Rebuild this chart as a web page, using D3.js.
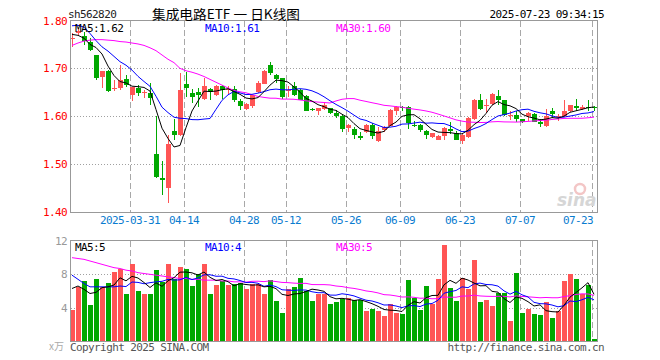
<!DOCTYPE html>
<html><head><meta charset="utf-8">
<script src="https://cdn.jsdelivr.net/npm/d3@7"></script>
<style>body{margin:0;background:#fff}svg{display:block}</style>
</head><body><svg id="c" width="660" height="360"></svg>
<script>
const dates = ["03-17","03-18","03-19","03-20","03-21","03-24","03-25","03-26","03-27","03-28","03-31",
"04-01","04-02","04-03","04-07","04-08","04-09","04-10","04-11","04-14","04-15","04-16","04-17","04-18","04-21","04-22","04-23","04-24","04-25","04-28","04-29","04-30",
"05-06","05-07","05-08","05-09","05-12","05-13","05-14","05-15","05-16","05-19","05-20","05-21","05-22","05-23","05-26","05-27","05-28","05-29","05-30",
"06-03","06-04","06-05","06-06","06-09","06-10","06-11","06-12","06-13","06-16","06-17","06-18","06-19","06-20","06-23","06-24","06-25","06-26","06-27","06-30",
"07-01","07-02","07-03","07-04","07-07","07-08","07-09","07-10","07-11","07-14","07-15","07-16","07-17","07-18","07-21","07-22","07-23"];
const opens = [1.761,1.774,1.768,1.756,1.727,1.681,1.695,1.656,1.659,1.677,
1.645,1.659,1.648,1.648,1.522,1.470,1.450,1.570,1.561,1.668,
1.648,1.650,1.636,1.657,1.645,1.664,1.654,1.657,1.631,1.615,
1.622,1.650,1.668,1.707,1.686,1.680,1.652,1.664,1.654,1.643,
1.615,1.610,1.615,1.617,1.607,1.601,1.575,1.573,1.559,1.568,
1.582,1.548,1.572,1.580,1.612,1.620,1.619,1.581,1.582,1.570,
1.557,1.551,1.558,1.573,1.566,1.548,1.557,1.594,1.634,1.621,
1.626,1.643,1.634,1.600,1.603,1.594,1.600,1.605,1.589,1.580,
1.610,1.599,1.600,1.610,1.622,1.615,1.620,1.620];
const highs = [1.773,1.785,1.775,1.763,1.728,1.695,1.697,1.676,1.707,1.686,
1.661,1.665,1.655,1.670,1.600,1.506,1.561,1.594,1.691,1.693,
1.657,1.659,1.680,1.658,1.666,1.666,1.664,1.664,1.635,1.627,
1.645,1.673,1.696,1.713,1.689,1.680,1.663,1.672,1.656,1.645,
1.617,1.618,1.627,1.618,1.614,1.602,1.583,1.577,1.568,1.583,
1.585,1.577,1.580,1.615,1.622,1.621,1.621,1.590,1.583,1.571,
1.566,1.561,1.578,1.588,1.570,1.563,1.599,1.635,1.646,1.637,
1.649,1.654,1.634,1.611,1.611,1.594,1.608,1.606,1.594,1.615,
1.617,1.604,1.634,1.624,1.637,1.623,1.634,1.621];
const lows = [1.745,1.770,1.749,1.737,1.676,1.659,1.650,1.653,1.655,1.662,
1.631,1.642,1.638,1.624,1.470,1.436,1.419,1.551,1.558,1.641,
1.628,1.619,1.634,1.634,1.642,1.635,1.647,1.629,1.614,1.614,
1.617,1.649,1.667,1.687,1.669,1.635,1.640,1.643,1.633,1.610,
1.610,1.602,1.613,1.604,1.596,1.568,1.568,1.553,1.550,1.564,
1.553,1.546,1.568,1.579,1.603,1.612,1.574,1.577,1.568,1.553,
1.555,1.550,1.551,1.562,1.550,1.542,1.555,1.593,1.614,1.607,
1.624,1.624,1.601,1.593,1.588,1.586,1.590,1.587,1.577,1.578,
1.597,1.590,1.599,1.608,1.610,1.614,1.610,1.612];
const closes = [1.763,1.779,1.757,1.739,1.680,1.695,1.653,1.658,1.676,1.666,
1.661,1.648,1.650,1.638,1.473,1.466,1.541,1.561,1.654,1.659,
1.640,1.645,1.664,1.650,1.664,1.654,1.656,1.633,1.622,1.625,
1.645,1.670,1.695,1.690,1.677,1.640,1.655,1.645,1.634,1.612,
1.613,1.617,1.624,1.607,1.600,1.573,1.582,1.561,1.554,1.582,
1.558,1.570,1.578,1.614,1.619,1.618,1.586,1.579,1.572,1.561,
1.564,1.559,1.575,1.570,1.551,1.561,1.596,1.634,1.615,1.623,
1.647,1.634,1.603,1.602,1.594,1.589,1.607,1.589,1.584,1.601,
1.605,1.601,1.610,1.624,1.617,1.620,1.618,1.618];
const volumes = [3.7,6.5,7.2,4.3,7.5,6.5,7.0,8.3,8.6,5.7,
9.2,6.0,5.6,5.6,8.5,7.1,9.3,7.5,8.9,8.6,
6.6,8.0,9.3,5.7,6.7,7.2,6.7,6.8,7.0,6.2,
6.8,6.9,5.6,7.3,4.8,3.4,6.2,6.5,7.6,6.0,
4.8,5.7,5.7,4.4,4.7,5.1,5.2,4.9,4.9,3.6,
3.8,3.6,3.0,4.5,3.4,3.2,7.3,5.2,3.7,6.6,
4.5,7.4,11.5,6.4,4.8,7.6,6.3,9.7,4.7,4.9,
4.2,5.8,5.8,2.4,8.2,3.4,3.8,3.2,3.1,4.7,
2.8,3.6,7.2,8.0,7.5,5.6,6.7,0.2];
// moving-average values before enough visible days exist
const ma5Lead = [1.771,1.769,1.763,1.750];
const ma10Lead = [1.789,1.790,1.786,1.773,1.758,1.745,1.736,1.725,1.714];
const ma30Lead = [1.748,1.753,1.757,1.759,1.760,1.760,1.759,1.758,1.756,1.755,1.753,1.751,1.748,1.743,1.737,1.728,1.719,1.712,1.700,1.695,1.692,1.688,1.683,1.677,1.671,1.665,1.659,1.654,1.651];
const vma5Lead = [6.3,6.6,6.2,5.7];
const vma10Lead = [7.9,7.4,6.9,6.5,6.5,6.5,6.5,6.5,6.6];
const vma30Lead = [10.0,9.9,9.8,9.6,9.4,9.2,9.0,8.8,8.7,8.5,8.4,8.2,8.1,8.0,7.9,7.8,7.7,7.6,7.5,7.5,7.4,7.4,7.3,7.3,7.3,7.2,7.2,7.1,7.1];
const priceTicks = [1.40,1.50,1.60,1.70,1.80];
const priceGrid = [1.50,1.60,1.70];
const volTicks = [4,8,12];
const volGrid = [4,8];
const tickDates = ["03-31","04-14","04-28","05-12","05-26","06-09","06-23","07-07","07-23"];
const tickLabels = ["2025-03-31","04-14","04-28","05-12","05-26","06-09","06-23","07-07","07-23"];

const RED = "#ff5555", GREEN = "#00a800";
const MONO = "'DejaVu Sans Mono', monospace";
const svg = d3.select("#c");
const L = 70.5, R = 597.5, PT = 20.5, PB = 212.5, VT = 240.5, VB = 341.5;

const x = d3.scaleBand().domain(dates).range([69, 597]);
const cx = d => x(d) + 3;
const y = d3.scaleLinear().domain([1.40, 1.80]).range([212, 20.5]);
const yv = d3.scaleLinear().domain([0, 12]).range([341, 241]);

function ma(arr, n, lead) {
  return arr.map((v, i) => i < lead.length ? lead[i] : d3.mean(arr.slice(i - n + 1, i + 1)));
}

svg.append("defs").call(d => {
  d.append("clipPath").attr("id", "cp").append("rect").attr("x", L).attr("y", PT).attr("width", R - L).attr("height", PB - PT);
  d.append("clipPath").attr("id", "cv").append("rect").attr("x", L).attr("y", VT).attr("width", R - L).attr("height", VB - VT);
});

// grids
const grid = svg.append("g").attr("shape-rendering", "crispEdges");
grid.selectAll(".hp").data(priceGrid).join("line")
  .attr("x1", L).attr("x2", R).attr("y1", d => Math.round(y(d)) + 0.5).attr("y2", d => Math.round(y(d)) + 0.5)
  .attr("stroke", "#a0a0a0").attr("stroke-dasharray", "1,2");
grid.selectAll(".hv").data(volGrid).join("line")
  .attr("x1", L).attr("x2", R).attr("y1", d => Math.round(yv(d)) + 0.5).attr("y2", d => Math.round(yv(d)) + 0.5)
  .attr("stroke", "#a0a0a0").attr("stroke-dasharray", "1,2");
[[PT, PB], [VT, VB]].forEach(([a, b]) => {
  grid.append("g").selectAll("line").data(tickDates).join("line")
    .attr("x1", d => x(d) + 1.5).attr("x2", d => x(d) + 1.5).attr("y1", a).attr("y2", b)
    .attr("stroke", "#a8a8a8").attr("stroke-dasharray", "6,3");
});

// watermark
const wm = svg.append("g");
wm.append("circle").attr("cx", 580).attr("cy", 189).attr("r", 5).attr("fill", "none").attr("stroke", "#f3c6c6").attr("stroke-width", 2.5);
wm.append("text").attr("x", 557).attr("y", 206).attr("font-family", "'DejaVu Sans', sans-serif").attr("font-style", "italic")
  .attr("font-weight", "bold").attr("font-size", 17).attr("fill", "#d6d6d6").text("sina");

// candles
const cg = svg.append("g").attr("shape-rendering", "crispEdges");
dates.forEach((d, i) => {
  const up = closes[i] >= opens[i];
  const col = up ? RED : GREEN;
  const yh = Math.round(y(highs[i])), yl = Math.round(y(lows[i]));
  cg.append("rect").attr("x", x(d) + 3).attr("y", yh).attr("width", 1).attr("height", Math.max(1, yl - yh)).attr("fill", col);
  const yo = Math.round(y(opens[i])), yc = Math.round(y(closes[i]));
  const top = Math.min(yo, yc), h = Math.max(1, Math.abs(yo - yc));
  cg.append("rect").attr("x", x(d) + 1).attr("y", top).attr("width", 5).attr("height", h).attr("fill", col);
});

// price MA lines
const line = d3.line().x((v, i) => cx(dates[i])).y(v => y(v));
const mp = svg.append("g").attr("clip-path", "url(#cp)").attr("fill", "none").attr("stroke-width", 1);
mp.append("path").attr("d", line(ma(closes, 30, ma30Lead))).attr("stroke", "#ff00ff");
mp.append("path").attr("d", line(ma(closes, 10, ma10Lead))).attr("stroke", "#0000ff");
mp.append("path").attr("d", line(ma(closes, 5, ma5Lead))).attr("stroke", "#000");

// volume bars
svg.append("g").attr("shape-rendering", "crispEdges").selectAll("rect").data(volumes).join("rect")
  .attr("x", (v, i) => x(dates[i]) + 1).attr("width", 5)
  .attr("y", v => Math.round(yv(v))).attr("height", v => 341 - Math.round(yv(v)))
  .attr("fill", (v, i) => closes[i] >= opens[i] ? RED : GREEN);

const vline = d3.line().x((v, i) => cx(dates[i])).y(v => yv(v));
const mv = svg.append("g").attr("clip-path", "url(#cv)").attr("fill", "none").attr("stroke-width", 1);
mv.append("path").attr("d", vline(ma(volumes, 30, vma30Lead))).attr("stroke", "#ff00ff");
mv.append("path").attr("d", vline(ma(volumes, 10, vma10Lead))).attr("stroke", "#0000ff");
mv.append("path").attr("d", vline(ma(volumes, 5, vma5Lead))).attr("stroke", "#000");

// frames
const fr = svg.append("g").attr("fill", "none").attr("stroke", "#999").attr("shape-rendering", "crispEdges");
fr.append("rect").attr("x", L).attr("y", PT).attr("width", R - L).attr("height", PB - PT);
fr.append("rect").attr("x", L).attr("y", VT).attr("width", R - L).attr("height", VB - VT);

// axes
function styleAxis(g, color) {
  g.select(".domain").remove();
  g.attr("font-family", MONO).attr("font-size", 11);
  g.selectAll("text").attr("fill", color).style("letter-spacing", "-0.6px");
}
const ay = svg.append("g").attr("transform", "translate(70,0)")
  .call(d3.axisLeft(y).tickValues(priceTicks).tickSize(0).tickPadding(3).tickFormat(d3.format(".2f")));
styleAxis(ay, "#ff0000");
const av = svg.append("g").attr("transform", "translate(70,0)")
  .call(d3.axisLeft(yv).tickValues(volTicks).tickSize(0).tickPadding(3).tickFormat(d3.format("d")));
styleAxis(av, "#999");
const ax = svg.append("g").attr("transform", "translate(-2,212)")
  .call(d3.axisBottom(x).tickValues(tickDates).tickSize(0).tickPadding(4).tickFormat((d, i) => tickLabels[i]));
styleAxis(ax, "#0a7ccf");
ax.selectAll(".tick").filter((d, i) => i === tickDates.length - 1).select("text").attr("text-anchor", "end").attr("x", 1);

// texts
function txt(s, xx, yy, color, anchor, size, family) {
  svg.append("text").attr("x", xx).attr("y", yy).attr("fill", color).attr("text-anchor", anchor || "start")
    .attr("font-family", family || MONO).attr("font-size", size || 11)
    .style("letter-spacing", family ? "0px" : "-0.6px").text(s);
}
txt("sh562820", 68, 18, "#222");
svg.append("text").attr("x", 152).attr("y", 19).attr("font-family", "'Noto Sans CJK SC', sans-serif").attr("font-size", 13)
  .attr("textLength", 148).attr("lengthAdjust", "spacingAndGlyphs").attr("fill", "#000").style("white-space", "pre")
  .text("集成电路ETF 一 日K线图");
txt("2025-07-23 09:34:15", 604, 18, "#000", "end");
txt("MA5:1.62", 75, 32, "#000");
txt("MA10:1.61", 205, 32, "#0000ff");
txt("MA30:1.60", 336, 32, "#ff00ff");
txt("MA5:5", 75, 251, "#000");
txt("MA10:4", 205, 251, "#0000ff");
txt("MA30:5", 336, 251, "#ff00ff");
svg.append("text").attr("x", 49).attr("y", 350).attr("font-family", "'Noto Sans CJK SC', sans-serif").attr("font-size", 10).attr("fill", "#aaa").text("x万");
txt("Copyright 2025 SINA.COM", 70, 351, "#555");
txt("http://finance.sina.com.cn", 604, 351, "#555", "end");
</script></body></html>
